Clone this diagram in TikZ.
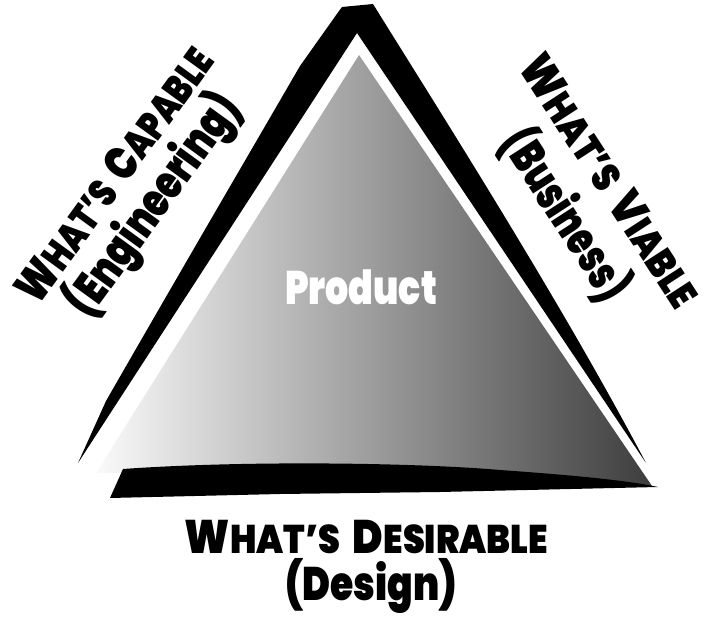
\documentclass[tikz,border=0pt]{standalone}
\usepackage{fontspec}
\newfontfamily\heavy{Poppins Black}
\newcommand\bigL[1]{{\fontsize{47}{47}\selectfont #1}}
\newcommand\smL[1]{{\fontsize{40}{40}\selectfont #1}}
\newcommand\wsp{\hspace{14pt}}
\begin{document}
\begin{tikzpicture}[x=1pt,y=-1pt]
\tikzset{
  blk/.style={fill=black,draw=none},
  lbl/.style={inner sep=0pt,outer sep=0pt,font=\heavy,text=black,anchor=base},
}
\useasboundingbox (0,0) rectangle (704,617);
% inner gradient triangle
\shade[left color=gray!4,right color=black!76]
  (359,55) -- (652,486) -- (400,475) -- (96,473) -- cycle;
% black brush frame (left and right strokes)
\fill[blk] (78,463) -- (106,401) .. controls (180,272) and (260,135) .. (300,66)
  -- (339,11) -- (342,7) -- (373,4)
  .. controls (440,112) and (560,300) .. (646,463)
  -- (357,33) -- cycle;
% bottom stroke
\fill[blk] (110,498) -- (123,469) .. controls (250,460) and (420,463) .. (500,470)
  .. controls (570,475) and (625,480) .. (658,487)
  -- (440,492) -- (280,494) -- cycle;
% labels
\node[lbl,text=white] (prod) at (361,305)
  {\resizebox{152pt}{\height}{\bigL{Product}}};
\node[lbl] (des1) at (366.5,553)
  {\resizebox{363pt}{\height}{\bigL{W}\smL{HAT’S}\wsp\bigL{D}\smL{ESIRABLE}}};
\node[lbl] (des2) at (371,600)
  {\resizebox{172pt}{\height}{\bigL{(Design)}}};
\node[lbl,rotate=54] (cap1) at (127,184)
  {\resizebox{302pt}{\height}{\bigL{W}\smL{HAT’S}\wsp\bigL{C}\smL{APABLE}}};
\node[lbl,rotate=54] (cap2) at (165.5,214)
  {\resizebox{262pt}{\height}{\bigL{(Engineering)}}};
\node[lbl,rotate=-57] (via1) at (597,189.5)
  {\resizebox{291pt}{\height}{\bigL{W}\smL{HAT’S}\wsp\bigL{V}\smL{IABLE}}};
\node[lbl,rotate=-57] (via2) at (552.5,223.6)
  {\resizebox{194pt}{\height}{\bigL{(Business)}}};
\end{tikzpicture}
\end{document}
